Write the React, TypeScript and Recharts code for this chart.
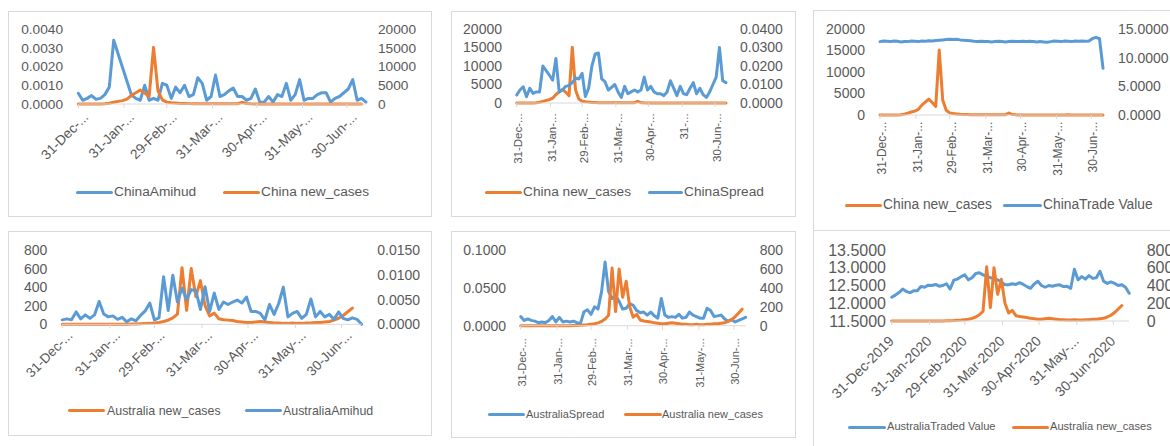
import React from 'react';
import { LineChart, Line, XAxis, YAxis } from 'recharts';

const FONT = '"Liberation Sans", Arial, sans-serif';
const TEXT = '#595959';
const AXIS = '#D9D9D9';
const BLUE = '#5B9BD5';
const ORANGE = '#ED7D31';

// one sample every 3 days, starting 31-Dec-2019
const SAMPLE_DAYS = 3;
const TICK_DAYS = [0, 31, 60, 91, 121, 152, 182];
const LABELS_SHORT = ['31-Dec-...', '31-Jan-...', '29-Feb-...', '31-Mar-...', '30-Apr-...', '31-May-...', '30-Jun-...'];
const LABELS_SHORT_MAY = ['31-Dec-...', '31-Jan-...', '29-Feb-...', '31-Mar-...', '30-Apr-...', '31-...', '30-Jun-...'];
const LABELS_FULL = ['31-Dec-2019', '31-Jan-2020', '29-Feb-2020', '31-Mar-2020', '30-Apr-2020', '31-May-...', '30-Jun-2020'];

const CN_CASES_TICKS = [0, 5000, 10000, 15000, 20000];
const CN_AMIHUD_TICKS = [0, 0.001, 0.002, 0.003, 0.004];
const CN_SPREAD_TICKS = [0, 0.01, 0.02, 0.03, 0.04];
const CN_TRADE_TICKS = [0, 5, 10, 15];
const AU_CASES_TICKS = [0, 200, 400, 600, 800];
const AU_AMIHUD_TICKS = [0, 0.005, 0.01, 0.015];
const AU_SPREAD_TICKS = [0, 0.05, 0.1];
const AU_TRADE_TICKS = [11.5, 12, 12.5, 13, 13.5];

type Val = number | null;

const chinaNewCases: Val[] = [
  0, 0, 0, 0, 0, 10, 60, 200, 450, 700,
  900, 1300, 2300, 3000, 3700, 2900, 2000, 15100, 3500, 1100,
  500, 350, 250, 150, 120, 100, 80, 60, 50, 40,
  40, 50, 60, 40, 50, 60, 80, 450, 100, 40,
  20, 10, 10, 20, 10, 10, 5, 10, 10, 5,
  10, 20, 10, 10, 30, 20, 20, 10, 10, 20,
  10, 10, 10, 10, 10,
];

const chinaAmihud: Val[] = [
  0.00057, 0.0002, 0.0003, 0.00045, 0.00025, 0.0003, 0.0005, 0.0009, 0.0034, null,
  null, null, 0.00048, 0.0003, 0.0002, 0.001, 0.0002, 0.0003, 0.0002, 0.0011,
  0.001, 0.0003, 0.0009, 0.0006, 0.001, 0.0004, 0.0005, 0.0014, 0.0011, 0.0002,
  0.0004, 0.00155, 0.0004, 0.0005, 0.0007, 0.00085, 0.0004, 0.0004, 0.0002, 0.0003,
  0.0008, 0.0001, 0.0001, 0.0004, 0.0001, 0.0005, 0.0004, 0.0011, 0.0002, 0.0005,
  0.0013, 0.0002, 0.0003, 0.0003, 0.0005, 0.0006, 0.0006, 0.0001, 0.0003, 0.0004,
  0.0006, 0.0008, 0.0013, 0.0002, 0.0003, 0.0001,
];

const chinaSpread: Val[] = [
  0.0043, 0.007, 0.0088, 0.0034, 0.008, 0.0052, 0.006, 0.006, 0.02, 0.0175,
  0.015, 0.0124, 0.024, 0.006, 0.007, 0.009, 0.0095, 0.011, 0.0135, 0.013,
  0.016, 0.0035, 0.008, 0.02, 0.0265, 0.027, 0.013, 0.0115, 0.007, 0.0085,
  0.01, 0.006, 0.003, 0.009, 0.005, 0.006, 0.007, 0.006, 0.007, 0.014,
  0.007, 0.009, 0.006, 0.005, 0.005, 0.004, 0.006, 0.012, 0.008, 0.004,
  0.009, 0.005, 0.0045, 0.008, 0.011, 0.005, 0.008, 0.0045, 0.003, 0.006,
  0.01, 0.014, 0.03, 0.012, 0.011,
];

const chinaTradeValue: Val[] = [
  12.8, 12.9, 12.85, 12.8, 12.9, 12.85, 12.75, 12.8, 12.8, 12.9,
  12.85, 12.8, 12.9, 12.85, 12.95, 12.9, 13.0, 13.05, 13.1, 13.15,
  13.2, 13.15, 13.2, 13.1, 13.05, 13.0, 12.95, 12.85, 12.8, 12.85,
  12.8, 12.8, 12.75, 12.8, 12.85, 12.8, 12.75, 12.8, 12.85, 12.8,
  12.8, 12.85, 12.8, 12.85, 12.8, 12.75, 12.8, 12.75, 12.7, 12.8,
  12.9, 12.85, 12.8, 12.9, 12.85, 12.8, 12.9, 12.85, 12.9, 12.85,
  12.9, 13.35, 13.55, 13.3, 8.15,
];

const australiaNewCases: Val[] = [
  0, 0, 0, 0, 0, 0, 0, 0, 0, 0,
  0, 0, 0, 0, 0, 2, 3, 5, 8, 10,
  15, 20, 30, 45, 70, 110, 610, 150, 600, 300,
  470, 200, 90, 120, 60, 50, 45, 40, 30, 25,
  20, 20, 25, 30, 25, 20, 15, 15, 10, 10,
  15, 10, 10, 15, 15, 20, 20, 25, 30, 45,
  65, 95, 135, 175,
];

const australiaAmihud: Val[] = [
  0.0009, 0.0011, 0.0009, 0.0025, 0.0011, 0.0019, 0.0012, 0.0019, 0.0046, 0.0021,
  0.0015, 0.0017, 0.001, 0.0014, 0.0005, 0.0011, 0.0007, 0.0018, 0.0027, 0.0043,
  0.0009, 0.0013, 0.0096, 0.0028, 0.0099, 0.0045, 0.0073, 0.005, 0.007, 0.0068,
  0.003, 0.0076, 0.0026, 0.0063, 0.003, 0.0045, 0.004, 0.0045, 0.0049, 0.0043,
  0.0055, 0.0026, 0.0026, 0.0022, 0.0009, 0.004, 0.002, 0.0042, 0.0075, 0.0015,
  0.0022, 0.0026, 0.0012, 0.002, 0.0051, 0.0015, 0.0026, 0.0015, 0.002, 0.001,
  0.0025, 0.0012, 0.0009, 0.0013, 0.001, 0.0,
];

const australiaSpread: Val[] = [
  0.012, 0.007, 0.009, 0.007, 0.006, 0.004, 0.005, 0.004, 0.007, 0.012,
  0.005, 0.011, 0.005, 0.006, 0.005, 0.006, 0.004, 0.003, 0.0185, 0.021,
  0.015, 0.025, 0.022, 0.045, 0.084, 0.045, 0.036, 0.04, 0.032, 0.022,
  0.023, 0.029, 0.027, 0.02, 0.017, 0.018, 0.014, 0.018, 0.013, 0.01,
  0.036, 0.014, 0.011, 0.012, 0.011, 0.015, 0.01, 0.011, 0.018, 0.014,
  0.012, 0.01, 0.01, 0.023, 0.02, 0.012, 0.013, 0.014, 0.009, 0.006,
  0.008, 0.005, 0.007, 0.009, 0.011,
];

const australiaTradedValue: Val[] = [
  12.17, 12.23, 12.3, 12.4, 12.33, 12.3, 12.35, 12.35, 12.47, 12.45,
  12.51, 12.5, 12.53, 12.48, 12.5, 12.55, 12.4, 12.65, 12.68, 12.75,
  12.8, 12.66, 12.72, 12.84, 12.86, 12.8, 12.76, 12.72, 12.7, 12.66,
  12.6, 12.52, 12.52, 12.55, 12.53, 12.58, 12.53, 12.47, 12.42, 12.54,
  12.62, 12.5, 12.45, 12.5, 12.48, 12.51, 12.52, 12.47, 12.48, 12.42,
  12.96, 12.66, 12.75, 12.68, 12.78, 12.7, 12.72, 12.9, 12.62, 12.56,
  12.6, 12.56, 12.5, 12.52, 12.45, 12.28,
];

function buildRows(blue: Val[], orange: Val[]) {
  const n = Math.max(blue.length, orange.length);
  const rows: { day: number; blue: Val; orange: Val }[] = [];
  for (let i = 0; i < n; i++) {
    rows.push({
      day: i * SAMPLE_DAYS,
      blue: i < blue.length ? blue[i] : null,
      orange: i < orange.length ? orange[i] : null,
    });
  }
  return rows;
}

type AxisCfg = { ticks: number[]; decimals: number; gap: number; fontSize: number };
type SeriesCfg = { key: 'blue' | 'orange'; axis: 'left' | 'right'; connectNulls?: boolean };
type LegendItem = { name: string; color: string; lineX: number; lineW: number; textX: number };
type PanelCfg = {
  box: { x: number; y: number; w: number; h: number };
  border: { w: number; h: number };
  plot: { left: number; right: number; top: number; bottom: number };
  xMax: number;
  rows: ReturnType<typeof buildRows>;
  left: AxisCfg;
  right: AxisCfg;
  series: SeriesCfg[];
  xLabels: string[];
  xTick: { angle: number; dx: number; dy: number; fontSize: number; vertical: boolean };
  legend: { y: number; fontSize: number; items: LegendItem[] };
};

const panels: PanelCfg[] = [
  {
    box: { x: 8, y: 11, w: 424, h: 205 },
    border: { w: 424, h: 206 },
    plot: { left: 78.3, right: 366, top: 29, bottom: 104 },
    xMax: 195,
    rows: buildRows(chinaAmihud, chinaNewCases),
    left: { ticks: CN_AMIHUD_TICKS, decimals: 4, gap: 15.3, fontSize: 13.7 },
    right: { ticks: CN_CASES_TICKS, decimals: 0, gap: 12, fontSize: 13.7 },
    series: [
      { key: 'blue', axis: 'left', connectNulls: true },
      { key: 'orange', axis: 'right' },
    ],
    xLabels: LABELS_SHORT,
    xTick: { angle: -45, dx: 11, dy: 10, fontSize: 13.7, vertical: false },
    legend: {
      y: 192,
      fontSize: 13.7,
      items: [
        { name: 'ChinaAmihud', color: BLUE, lineX: 76, lineW: 37, textX: 114 },
        { name: 'China new_cases', color: ORANGE, lineX: 223, lineW: 37, textX: 261 },
      ],
    },
  },
  {
    box: { x: 451, y: 11, w: 344, h: 205 },
    border: { w: 345, h: 206 },
    plot: { left: 516.7, right: 726, top: 29, bottom: 103 },
    xMax: 192,
    rows: buildRows(chinaSpread, chinaNewCases),
    left: { ticks: CN_CASES_TICKS, decimals: 0, gap: 14.7, fontSize: 14 },
    right: { ticks: CN_SPREAD_TICKS, decimals: 4, gap: 14, fontSize: 14 },
    series: [
      { key: 'orange', axis: 'left' },
      { key: 'blue', axis: 'right' },
    ],
    xLabels: LABELS_SHORT_MAY,
    xTick: { angle: -90, dx: 1.6, dy: 6.3, fontSize: 11.5, vertical: true },
    legend: {
      y: 192,
      fontSize: 13.7,
      items: [
        { name: 'China new_cases', color: ORANGE, lineX: 485, lineW: 37, textX: 523 },
        { name: 'ChinaSpread', color: BLUE, lineX: 648, lineW: 35, textX: 684 },
      ],
    },
  },
  {
    box: { x: 813, y: 10, w: 357, h: 220 },
    border: { w: 400, h: 221 },
    plot: { left: 880, right: 1103, top: 29, bottom: 115 },
    xMax: 192,
    rows: buildRows(chinaTradeValue, chinaNewCases),
    left: { ticks: CN_CASES_TICKS, decimals: 0, gap: 15, fontSize: 14 },
    right: { ticks: CN_TRADE_TICKS, decimals: 4, gap: 15, fontSize: 14 },
    series: [
      { key: 'orange', axis: 'left' },
      { key: 'blue', axis: 'right' },
    ],
    xLabels: LABELS_SHORT,
    xTick: { angle: -90, dx: 1.7, dy: 2.7, fontSize: 12, vertical: true },
    legend: {
      y: 205,
      fontSize: 13.8,
      items: [
        { name: 'China new_cases', color: ORANGE, lineX: 845, lineW: 37, textX: 883 },
        { name: 'ChinaTrade Value', color: BLUE, lineX: 1003, lineW: 39, textX: 1043 },
      ],
    },
  },
  {
    box: { x: 8, y: 231, w: 424, h: 204 },
    border: { w: 424, h: 205 },
    plot: { left: 62.3, right: 361.6, top: 250, bottom: 324.3 },
    xMax: 195,
    rows: buildRows(australiaAmihud, australiaNewCases),
    left: { ticks: AU_CASES_TICKS, decimals: 0, gap: 15, fontSize: 14 },
    right: { ticks: AU_AMIHUD_TICKS, decimals: 4, gap: 15.7, fontSize: 14 },
    series: [
      { key: 'orange', axis: 'left' },
      { key: 'blue', axis: 'right' },
    ],
    xLabels: LABELS_SHORT,
    xTick: { angle: -45, dx: 11, dy: 8, fontSize: 13.5, vertical: false },
    legend: {
      y: 410.7,
      fontSize: 12.4,
      items: [
        { name: 'Australia new_cases', color: ORANGE, lineX: 68, lineW: 37, textX: 107 },
        { name: 'AustraliaAmihud', color: BLUE, lineX: 245, lineW: 37, textX: 283 },
      ],
    },
  },
  {
    box: { x: 451, y: 231, w: 344, h: 206 },
    border: { w: 345, h: 207 },
    plot: { left: 520.7, right: 745.7, top: 250, bottom: 325.7 },
    xMax: 192,
    rows: buildRows(australiaSpread, australiaNewCases),
    left: { ticks: AU_SPREAD_TICKS, decimals: 4, gap: 14.7, fontSize: 14 },
    right: { ticks: AU_CASES_TICKS, decimals: 0, gap: 14, fontSize: 14 },
    series: [
      { key: 'blue', axis: 'left' },
      { key: 'orange', axis: 'right' },
    ],
    xLabels: LABELS_SHORT,
    xTick: { angle: -90, dx: 1, dy: 8.6, fontSize: 11, vertical: true },
    legend: {
      y: 414,
      fontSize: 11,
      items: [
        { name: 'AustraliaSpread', color: BLUE, lineX: 488, lineW: 37, textX: 526 },
        { name: 'Australia new_cases', color: ORANGE, lineX: 624, lineW: 38, textX: 662 },
      ],
    },
  },
  {
    box: { x: 813, y: 230, w: 357, h: 216 },
    border: { w: 400, h: 250 },
    plot: { left: 891.7, right: 1129.2, top: 250, bottom: 321 },
    xMax: 195,
    rows: buildRows(australiaTradedValue, australiaNewCases),
    left: { ticks: AU_TRADE_TICKS, decimals: 4, gap: 5.7, fontSize: 16 },
    right: { ticks: AU_CASES_TICKS, decimals: 0, gap: 17.5, fontSize: 16 },
    series: [
      { key: 'blue', axis: 'left' },
      { key: 'orange', axis: 'right' },
    ],
    xLabels: LABELS_FULL,
    xTick: { angle: -45, dx: 3, dy: 17, fontSize: 14, vertical: false },
    legend: {
      y: 427.3,
      fontSize: 11.1,
      items: [
        { name: 'AustraliaTraded Value', color: BLUE, lineX: 848, lineW: 38, textX: 887 },
        { name: 'Australia new_cases', color: ORANGE, lineX: 1012, lineW: 37, textX: 1050 },
      ],
    },
  },
];

function Panel({ cfg }: { cfg: PanelCfg }) {
  const { box, plot } = cfg;
  const leftW = plot.left - box.x;
  const rightW = box.x + box.w - plot.right;
  const xH = box.y + box.h - plot.bottom;

  const renderTick = (props: any) => {
    const { x, y, payload } = props;
    const idx = TICK_DAYS.indexOf(payload.value);
    const ax = x + cfg.xTick.dx;
    const ay = y + cfg.xTick.dy;
    return (
      <text
        x={ax}
        y={ay}
        dy={cfg.xTick.vertical ? '0.35em' : undefined}
        transform={`rotate(${cfg.xTick.angle} ${ax} ${ay})`}
        textAnchor="end"
        fill={TEXT}
        fontSize={cfg.xTick.fontSize}
        fontFamily={FONT}
      >
        {cfg.xLabels[idx]}
      </text>
    );
  };

  const yAxis = (id: 'left' | 'right', a: AxisCfg, width: number) => (
    <YAxis
      yAxisId={id}
      orientation={id}
      width={width}
      type="number"
      domain={[a.ticks[0], a.ticks[a.ticks.length - 1]]}
      ticks={a.ticks}
      interval={0}
      tickFormatter={(v: number) => v.toFixed(a.decimals)}
      axisLine={false}
      tickLine={false}
      tickSize={0}
      tickMargin={a.gap}
      tick={{ fill: TEXT, fontSize: a.fontSize, fontFamily: FONT }}
    />
  );

  return (
    <>
      <div
        style={{
          position: 'absolute',
          left: box.x,
          top: box.y,
          width: cfg.border.w,
          height: cfg.border.h,
          border: `1px solid ${AXIS}`,
          boxSizing: 'border-box',
        }}
      />
      <div style={{ position: 'absolute', left: box.x, top: box.y }}>
        <LineChart
          width={box.w}
          height={box.h}
          data={cfg.rows}
          margin={{ top: plot.top - box.y, right: 0, bottom: 0, left: 0 }}
          style={{ fontFamily: FONT }}
        >
          <XAxis
            dataKey="day"
            type="number"
            domain={[0, cfg.xMax]}
            ticks={TICK_DAYS}
            interval={0}
            height={xH}
            tickSize={4}
            tickMargin={0}
            axisLine={{ stroke: AXIS }}
            tickLine={{ stroke: AXIS }}
            tick={renderTick}
          />
          {yAxis('left', cfg.left, leftW)}
          {yAxis('right', cfg.right, rightW)}
          {cfg.series.map((s) => (
            <Line
              key={s.key}
              yAxisId={s.axis}
              dataKey={s.key}
              stroke={s.key === 'blue' ? BLUE : ORANGE}
              strokeWidth={3}
              strokeLinejoin="round"
              strokeLinecap="round"
              dot={false}
              activeDot={false}
              connectNulls={!!s.connectNulls}
              isAnimationActive={false}
            />
          ))}
        </LineChart>
      </div>
      {cfg.legend.items.map((it) => (
        <React.Fragment key={it.name}>
          <div
            style={{
              position: 'absolute',
              left: it.lineX,
              top: cfg.legend.y - 1.5,
              width: it.lineW,
              height: 3,
              background: it.color,
              borderRadius: 1.5,
            }}
          />
          <div
            style={{
              position: 'absolute',
              left: it.textX,
              top: cfg.legend.y,
              transform: 'translateY(-50%)',
              fontSize: cfg.legend.fontSize,
              lineHeight: 1,
              color: TEXT,
              fontFamily: FONT,
              whiteSpace: 'nowrap',
            }}
          >
            {it.name}
          </div>
        </React.Fragment>
      ))}
    </>
  );
}

export default function App() {
  return (
    <div
      style={{
        position: 'absolute',
        left: 0,
        top: 0,
        width: 1170,
        height: 446,
        overflow: 'hidden',
        background: '#fff',
        fontFamily: FONT,
      }}
    >
      {panels.map((p, i) => (
        <Panel key={i} cfg={p} />
      ))}
    </div>
  );
}
